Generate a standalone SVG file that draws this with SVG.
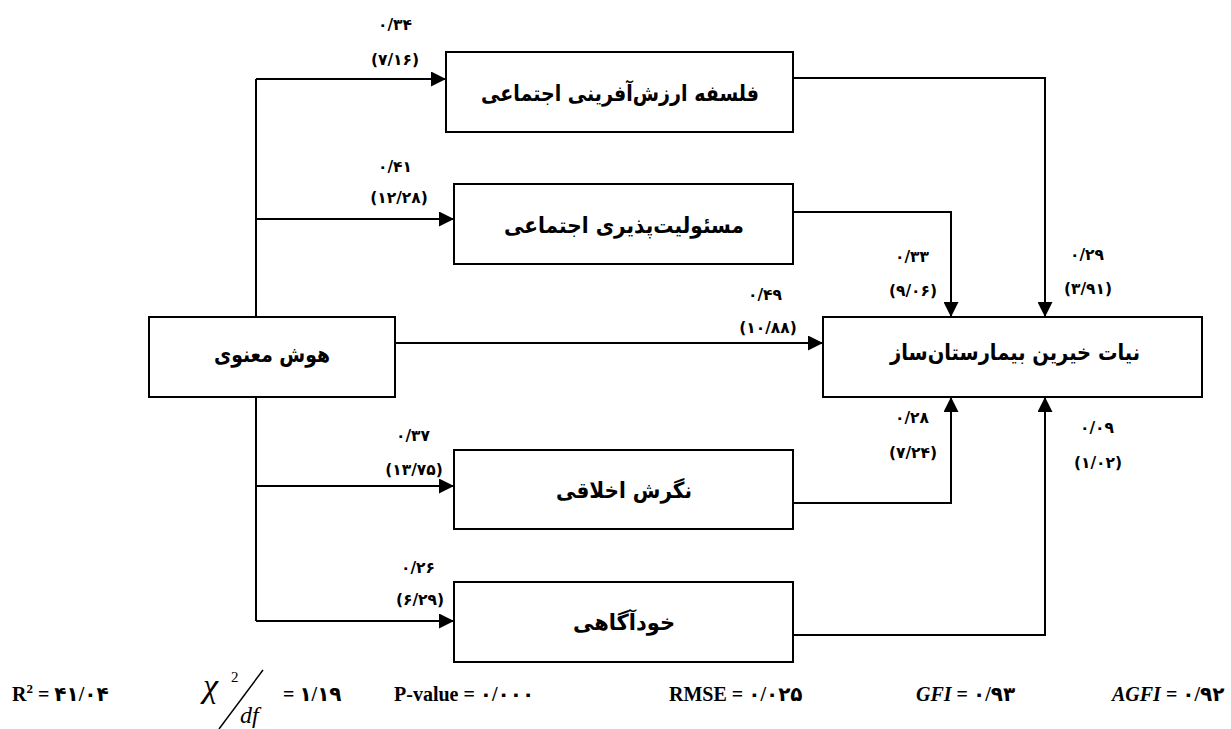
<svg xmlns="http://www.w3.org/2000/svg" width="1231" height="729" viewBox="0 0 1231 729">
<style>
.box{fill:#fff;stroke:#000;stroke-width:2}
.lbl{font-family:"DejaVu Sans",sans-serif;font-weight:bold;font-size:22px;fill:#000;text-anchor:middle}
.coef{font-family:"DejaVu Sans",sans-serif;font-weight:bold;font-size:15.5px;fill:#000;text-anchor:middle;letter-spacing:1.5px}
.con{fill:none;stroke:#000;stroke-width:2}
.fit{font-family:"Liberation Serif","DejaVu Sans",serif;font-weight:bold;font-size:20px;fill:#000}
</style>
<defs>
<marker id="ah" markerUnits="userSpaceOnUse" markerWidth="15" markerHeight="15" refX="15" refY="7.5" orient="auto">
<path d="M0,0 L15,7.5 L0,15 Z" fill="#000"/>
</marker>
</defs>
<rect width="1231" height="729" fill="#fff"/>
<g id="connectors">
<path class="con" d="M256,79 L256,621"/>
<path class="con" d="M256,79 L446,79" marker-end="url(#ah)"/>
<path class="con" d="M256,219 L454,219" marker-end="url(#ah)"/>
<path class="con" d="M395,343 L823,343" marker-end="url(#ah)"/>
<path class="con" d="M256,486 L454,486" marker-end="url(#ah)"/>
<path class="con" d="M256,621 L454,621" marker-end="url(#ah)"/>
<path class="con" d="M793,78 L1045,78 L1045,317" marker-end="url(#ah)"/>
<path class="con" d="M793,212 L951,212 L951,317" marker-end="url(#ah)"/>
<path class="con" d="M793,503 L951,503 L951,397" marker-end="url(#ah)"/>
<path class="con" d="M793,635 L1045,635 L1045,397" marker-end="url(#ah)"/>
</g>
<g id="coefficients">
<text class="coef" x="395" y="30">۰/۳۴</text>
<text class="coef" x="395" y="65">(۷/۱۶)</text>
<text class="coef" x="395" y="172">۰/۴۱</text>
<text class="coef" x="399" y="203">(۱۲/۲۸)</text>
<text class="coef" x="765" y="300">۰/۴۹</text>
<text class="coef" x="768" y="333">(۱۰/۸۸)</text>
<text class="coef" x="912" y="262">۰/۳۳</text>
<text class="coef" x="913" y="296">(۹/۰۶)</text>
<text class="coef" x="1087" y="260">۰/۲۹</text>
<text class="coef" x="1088" y="294">(۳/۹۱)</text>
<text class="coef" x="912" y="423">۰/۲۸</text>
<text class="coef" x="913" y="458">(۷/۲۴)</text>
<text class="coef" x="1097" y="433">۰/۰۹</text>
<text class="coef" x="1098" y="468">(۱/۰۲)</text>
<text class="coef" x="413" y="441">۰/۳۷</text>
<text class="coef" x="414" y="475">(۱۳/۷۵)</text>
<text class="coef" x="418" y="573">۰/۲۶</text>
<text class="coef" x="420" y="605">(۶/۲۹)</text>
</g>
<g id="n-falsafe">
<rect class="box" x="446" y="52" width="347" height="80"/>
<text class="lbl" x="620" y="101" textLength="278" lengthAdjust="spacingAndGlyphs">فلسفه ارزش&#x200C;آفرینی اجتماعی</text>
</g>
<g id="n-masouliat">
<rect class="box" x="454" y="184" width="339" height="80"/>
<text class="lbl" x="624" y="233" textLength="240" lengthAdjust="spacingAndGlyphs">مسئولیت&#x200C;پذیری اجتماعی</text>
</g>
<g id="n-housh">
<rect class="box" x="149" y="317" width="246" height="80"/>
<text class="lbl" x="272" y="362" textLength="116" lengthAdjust="spacingAndGlyphs">هوش معنوی</text>
</g>
<g id="n-niat">
<rect class="box" x="823" y="317" width="379" height="80"/>
<text class="lbl" x="1015" y="360" textLength="250" lengthAdjust="spacingAndGlyphs">نیات خیرین بیمارستان&#x200C;ساز</text>
</g>
<g id="n-negaresh">
<rect class="box" x="454" y="450" width="339" height="79"/>
<text class="lbl" x="624" y="498" textLength="136" lengthAdjust="spacingAndGlyphs">نگرش اخلاقی</text>
</g>
<g id="n-khodagahi">
<rect class="box" x="454" y="582" width="339" height="80"/>
<text class="lbl" x="624" y="630" textLength="102" lengthAdjust="spacingAndGlyphs">خودآگاهی</text>
</g>
<g id="fit-indices">
<text class="fit" x="12" y="701">R<tspan font-size="13" dy="-8">2</tspan><tspan dy="8"> = ۴۱/۰۴</tspan></text>
<text x="203" y="697" font-family="Liberation Serif,serif" font-style="italic" font-size="34">χ</text>
<text x="231" y="682" font-family="Liberation Serif,serif" font-size="15">2</text>
<line x1="263" y1="670" x2="219" y2="729" stroke="#000" stroke-width="1.5"/>
<text x="240" y="723" font-family="Liberation Serif,serif" font-style="italic" font-size="24">df</text>
<text class="fit" x="283" y="701">= ۱/۱۹</text>
<text class="fit" x="394" y="701">P-value = ۰/۰۰۰</text>
<text class="fit" x="669" y="701">RMSE = ۰/۰۲۵</text>
<text class="fit" x="916" y="701"><tspan font-style="italic">GFI</tspan> = ۰/۹۳</text>
<text class="fit" x="1112" y="701"><tspan font-style="italic">AGFI</tspan> = ۰/۹۲</text>
</g>
</svg>
